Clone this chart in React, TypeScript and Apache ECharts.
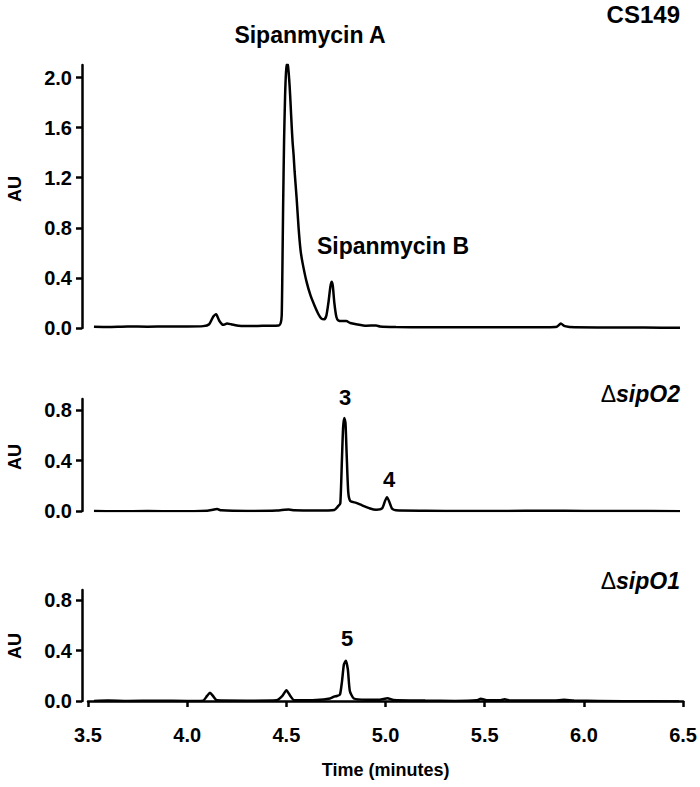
import React, { useEffect, useRef } from "react";
import * as echarts from "echarts";

// Retention time (minutes) / absorbance (AU) pairs
const cs149Time = [3.53, 3.6, 3.7, 3.8, 3.9, 4.0, 4.08, 4.11, 4.13, 4.145, 4.16, 4.18, 4.2, 4.22, 4.26, 4.32, 4.4, 4.46, 4.47, 4.475, 4.478, 4.482, 4.487, 4.492, 4.497, 4.502, 4.506, 4.51, 4.515, 4.52, 4.525, 4.53, 4.535, 4.54, 4.55, 4.56, 4.57, 4.58, 4.6, 4.62, 4.64, 4.66, 4.675, 4.69, 4.7, 4.71, 4.72, 4.726, 4.732, 4.74, 4.75, 4.76, 4.78, 4.8, 4.82, 4.85, 4.9, 4.95, 4.97, 5.05, 5.2, 5.4, 5.6, 5.8, 5.86, 5.88, 5.9, 5.95, 6.1, 6.3, 6.48];
const cs149AU = [0.01, 0.008, 0.012, 0.01, 0.012, 0.012, 0.015, 0.03, 0.09, 0.11, 0.06, 0.025, 0.035, 0.03, 0.018, 0.015, 0.018, 0.02, 0.04, 0.1, 0.4, 0.95, 1.5, 1.85, 2.05, 2.11, 2.1, 2.04, 1.93, 1.78, 1.62, 1.48, 1.38, 1.25, 1.04, 0.8, 0.62, 0.52, 0.37, 0.26, 0.18, 0.11, 0.075, 0.07, 0.1, 0.2, 0.33, 0.37, 0.34, 0.2, 0.09, 0.06, 0.055, 0.055, 0.04, 0.03, 0.018, 0.02, 0.012, 0.008, 0.006, 0.006, 0.005, 0.006, 0.01, 0.035, 0.015, 0.005, 0.004, 0.003, 0.002];

const sipO2Time = [3.53, 3.65, 3.8, 3.95, 4.1, 4.13, 4.15, 4.17, 4.3, 4.45, 4.49, 4.51, 4.54, 4.65, 4.74, 4.76, 4.77, 4.778, 4.784, 4.79, 4.796, 4.802, 4.81, 4.82, 4.85, 4.88, 4.92, 4.95, 4.98, 4.995, 5.005, 5.015, 5.03, 5.05, 5.2, 5.4, 5.6, 5.8, 6.0, 6.2, 6.48];
const sipO2AU = [0.0, -0.002, 0.0, -0.002, 0.002, 0.01, 0.015, 0.005, 0.0, 0.003, 0.01, 0.012, 0.005, 0.003, 0.008, 0.04, 0.06, 0.4, 0.66, 0.74, 0.7, 0.45, 0.15, 0.08, 0.065, 0.045, 0.02, 0.01, 0.02, 0.08, 0.11, 0.08, 0.02, 0.005, 0.002, 0.0, 0.0, 0.002, 0.0, 0.0, -0.002];

const sipO1Time = [3.53, 3.6, 3.7, 3.85, 4.0, 4.08, 4.1, 4.115, 4.13, 4.15, 4.3, 4.45, 4.48, 4.5, 4.52, 4.54, 4.65, 4.72, 4.74, 4.755, 4.77, 4.78, 4.79, 4.8, 4.81, 4.82, 4.84, 4.9, 4.97, 5.01, 5.04, 5.2, 5.35, 5.46, 5.48, 5.51, 5.58, 5.6, 5.63, 5.85, 5.9, 5.95, 6.2, 6.48];
const sipO1AU = [0.0, 0.003, 0.0, 0.002, 0.0, 0.003, 0.04, 0.065, 0.04, 0.005, 0.002, 0.005, 0.04, 0.085, 0.04, 0.005, 0.008, 0.02, 0.035, 0.04, 0.05, 0.15, 0.29, 0.32, 0.25, 0.08, 0.02, 0.01, 0.01, 0.022, 0.008, 0.003, 0.0, 0.005, 0.018, 0.005, 0.005, 0.014, 0.004, 0.003, 0.01, 0.003, -0.002, -0.003];

const xTicks = [3.5, 4.0, 4.5, 5.0, 5.5, 6.0, 6.5];
const yTicksTop = [0, 0.4, 0.8, 1.2, 1.6, 2.0];
const yTicksSmall = [0, 0.4, 0.8];

const FONT = "Liberation Sans, Arial, Helvetica, sans-serif";

function pairs(t: number[], v: number[]) {
  return t.map((x, i) => [x, v[i]]);
}

export default function App() {
  const ref = useRef<HTMLDivElement>(null);

  useEffect(() => {
    if (!ref.current) return;
    const chart = echarts.init(ref.current, null, { renderer: "svg" });

    const axisLine = { show: true, lineStyle: { color: "#000", width: 2.5 } };
    const yAxisBase = (max: number, ticks: number[], idx: number) => ({
      type: "value",
      gridIndex: idx,
      min: 0,
      max,
      interval: 0.4,
      offset: 6,
      axisLine,
      axisTick: { show: true, length: 6, lineStyle: { color: "#000", width: 2.5 }, customValues: ticks },
      axisLabel: {
        customValues: ticks,
        formatter: (v: number) => v.toFixed(1),
        color: "#000",
        fontSize: 20,
        fontWeight: "bold",
        fontFamily: FONT,
        margin: 10,
      },
      splitLine: { show: false },
    });

    const hiddenX = (idx: number) => ({
      type: "value",
      gridIndex: idx,
      min: 3.5,
      max: 6.5,
      show: false,
    });

    const lineSeries = (data: number[][], idx: number) => ({
      type: "line",
      xAxisIndex: idx,
      yAxisIndex: idx,
      data,
      showSymbol: false,
      smooth: 0.2,
      lineStyle: { color: "#000", width: 2.5 },
      itemStyle: { color: "#000" },
      silent: true,
    });

    const txt = (text: string, x: number, y: number, size: number, align = "center", extra: any = {}) => ({
      type: "text",
      x,
      y,
      ...extra,
      style: {
        text,
        align,
        verticalAlign: "middle",
        fill: "#000",
        fontSize: size,
        fontWeight: "bold",
        fontFamily: FONT,
        ...(extra.style || {}),
      },
    });

    const deltaRich = {
      d: { fontSize: 23, fontWeight: "normal", fontFamily: FONT, fill: "#000" },
      i: { fontSize: 23, fontWeight: "bold", fontStyle: "italic", fontFamily: FONT, fill: "#000" },
    };

    chart.setOption({
      animation: false,
      backgroundColor: "#fff",
      grid: [
        { left: 88, right: 16, top: 65, height: 263 },
        { left: 88, right: 16, top: 399, height: 112 },
        { left: 88, right: 16, top: 590, height: 111 },
      ],
      xAxis: [
        hiddenX(0),
        hiddenX(1),
        {
          type: "value",
          gridIndex: 2,
          min: 3.5,
          max: 6.5,
          interval: 0.5,
          offset: 12,
          axisLine,
          axisTick: { show: true, length: 6, lineStyle: { color: "#000", width: 2.5 }, customValues: xTicks },
          axisLabel: {
            customValues: xTicks,
            formatter: (v: number) => v.toFixed(1),
            color: "#000",
            fontSize: 20,
            fontWeight: "bold",
            fontFamily: FONT,
            margin: 12,
          },
          splitLine: { show: false },
          name: "Time (minutes)",
          nameLocation: "middle",
          nameGap: 48,
          nameTextStyle: { color: "#000", fontSize: 18, fontWeight: "bold", fontFamily: FONT },
        },
      ],
      yAxis: [yAxisBase(2.1, yTicksTop, 0), yAxisBase(0.89, yTicksSmall, 1), yAxisBase(0.88, yTicksSmall, 2)],
      series: [
        lineSeries(pairs(cs149Time, cs149AU), 0),
        lineSeries(pairs(sipO2Time, sipO2AU), 1),
        lineSeries(pairs(sipO1Time, sipO1AU), 2),
      ],
      graphic: [
        txt("CS149", 680, 14, 24, "right"),
        txt("Sipanmycin A", 310, 35, 23),
        txt("Sipanmycin B", 393, 246, 23),
        {
          type: "text",
          x: 680,
          y: 394,
          style: { text: "{d|Δ}{i|sipO2}", rich: deltaRich, align: "right", verticalAlign: "middle" },
        },
        txt("3", 345, 397, 22),
        txt("4", 389, 479, 22),
        {
          type: "text",
          x: 680,
          y: 581,
          style: { text: "{d|Δ}{i|sipO1}", rich: deltaRich, align: "right", verticalAlign: "middle" },
        },
        txt("5", 347, 638, 22),
        txt("AU", 15, 189, 18, "center", { rotation: Math.PI / 2 }),
        txt("AU", 15, 457, 18, "center", { rotation: Math.PI / 2 }),
        txt("AU", 15, 646, 18, "center", { rotation: Math.PI / 2 }),
      ],
    });

    return () => chart.dispose();
  }, []);

  return (
    <div
      ref={ref}
      style={{ position: "fixed", left: 0, top: 0, width: 700, height: 787, background: "#fff" }}
    />
  );
}
